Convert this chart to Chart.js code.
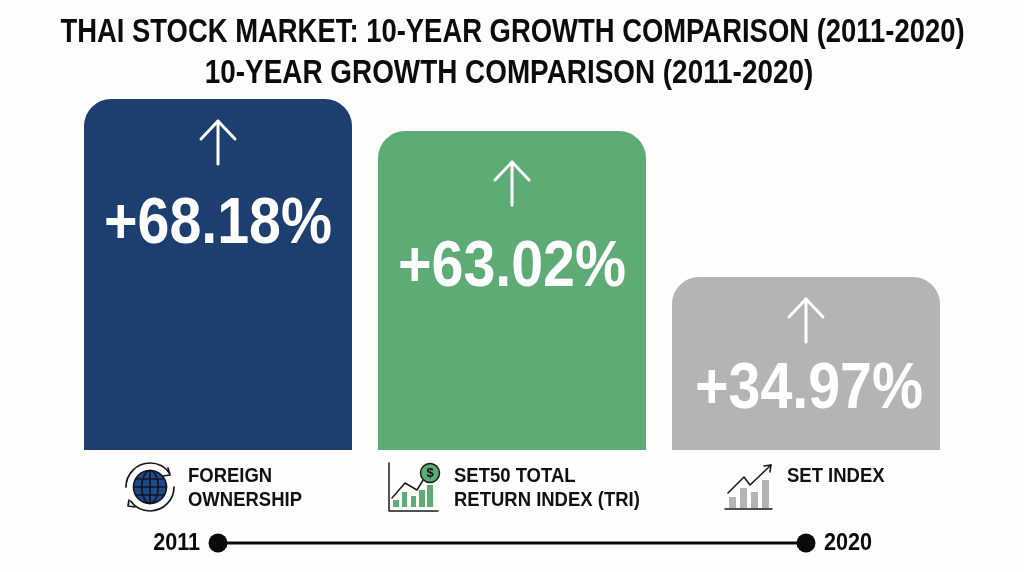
<!DOCTYPE html>
<html>
<head>
<meta charset="utf-8">
<title>Thai Stock Market: 10-Year Growth Comparison</title>
<script src="https://cdn.jsdelivr.net/npm/chart.js@4"></script>
<style>
  html, body { margin:0; padding:0; background:#fefefc; }
  canvas { display:block; }
</style>
</head>
<body>
<canvas id="chartGrowth" width="1024" height="572"></canvas>
<script>
const titleLines = ["THAI STOCK MARKET: 10-YEAR GROWTH COMPARISON (2011-2020)", "10-YEAR GROWTH COMPARISON (2011-2020)"];
const categories = ["Foreign Ownership", "SET50 Total Return Index (TRI)", "SET Index"];
const categoryLines = [["FOREIGN", "OWNERSHIP"], ["SET50 TOTAL", "RETURN INDEX (TRI)"], ["SET INDEX"]];
const growthLabels = ["+68.18%", "+63.02%", "+34.97%"];
// bar heights, on a scale where the tallest bar is 68.18
const barValues = [68.18, 61.96, 33.6];
const barColors = ["#1d3f6f", "#5dab75", "#b3b4b6"];
const timelineYears = ["2011", "2020"];

const SANS = '"Liberation Sans", sans-serif';

const titleX = [512.5, 509];
const titleSqueeze = [0.831, 0.845];
const arrowDrop = [22, 31, 22];    // arrow tip below bar top
const labelDrop = [124, 135, 111]; // label centre below bar top
const labelShift = [0, 0, 3];
const captionX = [188, 454, 787];

// no condensed face is installed, so squeeze the bold one with maxWidth
function narrowText(ctx, txt, x, y, factor){
  ctx.fillText(txt, x, y, ctx.measureText(txt).width * factor);
}

function line(ctx, pts, color, width){
  ctx.strokeStyle = color;
  ctx.lineWidth = width;
  ctx.lineCap = "round";
  ctx.lineJoin = "round";
  ctx.beginPath();
  pts.forEach((p, i) => i ? ctx.lineTo(p[0], p[1]) : ctx.moveTo(p[0], p[1]));
  ctx.stroke();
}

function bars(ctx, list, bottom, color){
  ctx.fillStyle = color;
  list.forEach(b => ctx.fillRect(b[0], b[2], b[1] - b[0], bottom - b[2]));
}

function drawGlobe(ctx){
  const cx = 150, cy = 487, r = 16.5, ink = "#10151f";
  ctx.fillStyle = "#1d4a8a";
  ctx.beginPath(); ctx.arc(cx, cy, r, 0, Math.PI * 2); ctx.fill();
  ctx.strokeStyle = ink; ctx.lineWidth = 1.6;
  ctx.beginPath(); ctx.arc(cx, cy, r, 0, Math.PI * 2); ctx.stroke();
  ctx.beginPath(); ctx.ellipse(cx, cy, r * 0.5, r, 0, 0, Math.PI * 2); ctx.stroke();
  line(ctx, [[cx, cy - r], [cx, cy + r]], ink, 1.6);
  line(ctx, [[cx - r, cy], [cx + r, cy]], ink, 1.6);
  line(ctx, [[cx - r + 2.5, cy - 8], [cx + r - 2.5, cy - 8]], ink, 1.4);
  line(ctx, [[cx - r + 2.5, cy + 8], [cx + r - 2.5, cy + 8]], ink, 1.4);
  // orbit arrows
  ctx.strokeStyle = ink; ctx.lineWidth = 1.7;
  ctx.beginPath(); ctx.arc(cx, cy, 24, Math.PI, Math.PI * 1.8); ctx.stroke();
  ctx.beginPath(); ctx.arc(cx, cy, 24, 0, Math.PI * 0.8); ctx.stroke();
  line(ctx, [[168, 468], [170, 475], [163, 476]], ink, 1.7);
  line(ctx, [[129, 500], [128, 506], [135, 507]], ink, 1.7);
}

function drawTriIcon(ctx){
  const green = "#5dab75", ink = "#1a1a1a";
  line(ctx, [[389, 463], [389, 511], [438, 511]], ink, 1.5);
  bars(ctx, [[393, 399, 500], [402, 407, 492], [411, 416, 496], [419, 425, 490], [427, 433, 485]], 507, green);
  line(ctx, [[392, 498], [405, 483], [417, 490], [425, 477]], ink, 1.5);
  ctx.fillStyle = green;
  ctx.beginPath(); ctx.arc(430, 473, 9.5, 0, Math.PI * 2); ctx.fill();
  ctx.strokeStyle = ink; ctx.lineWidth = 1.5; ctx.stroke();
  ctx.fillStyle = "#10151f";
  ctx.font = `bold 13px ${SANS}`;
  ctx.textAlign = "center"; ctx.textBaseline = "middle";
  ctx.fillText("$", 430, 473.5);
}

function drawSetIcon(ctx){
  const gray = "#b3b4b6", ink = "#1a1a1a";
  bars(ctx, [[729, 736, 497], [740, 747, 488], [751, 758, 492], [762, 769, 480]], 508, gray);
  line(ctx, [[725, 509], [772, 509]], ink, 1.5);
  line(ctx, [[728, 493], [744, 477], [750, 485], [771, 465]], ink, 1.6);
  line(ctx, [[764, 466], [771, 465], [770, 472]], ink, 1.6);
}

const growthDecor = {
  id: "growthDecor",
  afterDatasetsDraw(chart){
    const ctx = chart.ctx;
    const els = chart.getDatasetMeta(0).data;
    ctx.save();
    ctx.textBaseline = "middle";
    // title, one line at a time so each gets its own width
    ctx.fillStyle = "#0c0c0c";
    ctx.font = `bold 33px ${SANS}`;
    ctx.textAlign = "center";
    titleLines.forEach((txt, k) => narrowText(ctx, txt, titleX[k], 33 + k * 41, titleSqueeze[k]));
    els.forEach((bar, i) => {
      // up arrow
      const tip = bar.y + arrowDrop[i];
      line(ctx, [[bar.x, tip + 43], [bar.x, tip]], "#ffffff", 3);
      line(ctx, [[bar.x - 17, tip + 18], [bar.x, tip], [bar.x + 17, tip + 18]], "#ffffff", 3);
      // growth figure
      ctx.fillStyle = "#ffffff";
      ctx.font = `bold 64px ${SANS}`;
      ctx.textAlign = "center";
      ctx.textBaseline = "middle";
      ctx.fillText(growthLabels[i], bar.x + labelShift[i], bar.y + labelDrop[i] + 2, 228);
      // caption under the bar
      ctx.fillStyle = "#111111";
      ctx.font = `bold 21px ${SANS}`;
      ctx.textAlign = "left";
      categoryLines[i].forEach((txt, k) => narrowText(ctx, txt, captionX[i], 476 + k * 24, 0.88));
    });
    drawGlobe(ctx);
    drawTriIcon(ctx);
    drawSetIcon(ctx);
    // timeline from first to last bar centre
    const x0 = els[0].x, x1 = els[els.length - 1].x, yT = 543;
    line(ctx, [[x0, yT], [x1, yT]], "#0a0a0a", 3);
    ctx.fillStyle = "#0a0a0a";
    [x0, x1].forEach(x => { ctx.beginPath(); ctx.arc(x, yT, 9.5, 0, Math.PI * 2); ctx.fill(); });
    ctx.font = `bold 24px ${SANS}`;
    ctx.textBaseline = "middle";
    ctx.textAlign = "right";
    narrowText(ctx, timelineYears[0], x0 - 18, yT, 0.9);
    ctx.textAlign = "left";
    narrowText(ctx, timelineYears[1], x1 + 18, yT, 0.9);
    ctx.restore();
  }
};

new Chart(document.getElementById("chartGrowth"), {
  type: "bar",
  data: {
    labels: categories,
    datasets: [{
      label: "10-year growth",
      data: barValues,
      backgroundColor: barColors,
      borderRadius: { topLeft: 27, topRight: 27 },
      borderSkipped: "bottom",
      categoryPercentage: 1,
      barPercentage: 268 / 294,
    }]
  },
  options: {
    responsive: false,
    animation: false,
    layout: { padding: { left: 71, right: 71, top: 99, bottom: 122 } },
    scales: {
      x: { display: false },
      y: { display: false, min: 0, max: 68.18 },
    },
    plugins: {
      legend: { display: false },
      tooltip: { enabled: false },
    },
  },
  plugins: [growthDecor],
});
</script>
</body>
</html>
